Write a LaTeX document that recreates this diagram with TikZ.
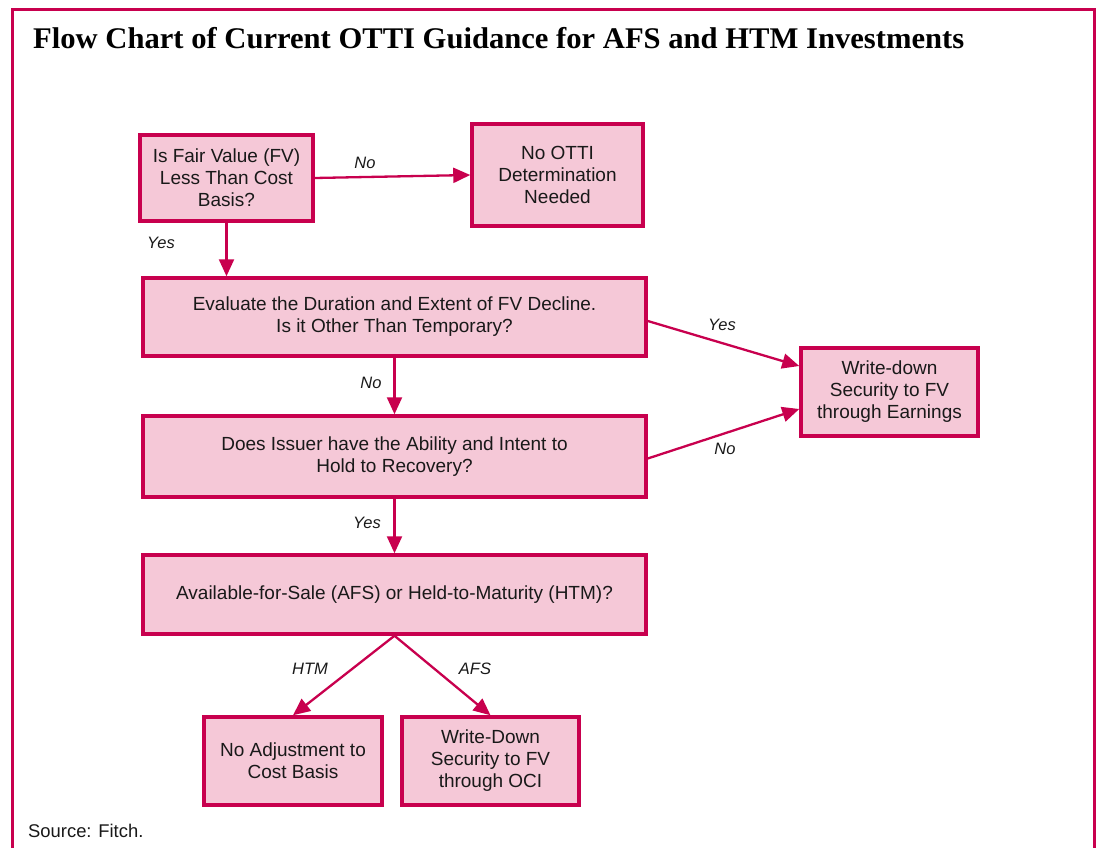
\documentclass[tikz,border=0pt]{standalone}
\usepackage{fontspec}
\setmainfont{Liberation Sans}
\newfontfamily\titlefont{Liberation Serif}
\usetikzlibrary{arrows.meta}
\definecolor{crim}{RGB}{200,0,78}
\definecolor{pinkfill}{RGB}{245,200,215}
\tikzset{
  box/.style={draw=crim, line width=3.5pt, fill=pinkfill, align=center, inner sep=0pt,
    font=\fontsize{19}{22}\selectfont, text=black!90},
  arr/.style={draw=crim, line width=2.3pt, -{Triangle[length=17pt,width=15pt]}},
  lbl/.style={font=\fontsize{16.5}{20}\selectfont\itshape, text=black!90},
}
\begin{document}
\begin{tikzpicture}[x=1pt,y=-1pt]
\useasboundingbox (0,0) rectangle (1096,848);
\fill[white] (0,0) rectangle (1096,848);
\draw[crim, line width=3.5pt] (12.5,880) -- (12.5,9.5) -- (1094.5,9.5) -- (1094.5,880);
\node[anchor=base west, inner sep=0pt] (title) at (33,49)
  {\titlefont\bfseries\scalebox{1.02}[1]{\fontsize{30}{32}\selectfont Flow Chart of Current OTTI Guidance for AFS and HTM Investments}};

\node[box, minimum width=173pt, minimum height=86pt] (A) at (226.5,178) {Is Fair Value (FV)\\Less Than Cost\\Basis?};
\node[box, minimum width=171pt, minimum height=102pt] (B) at (557.5,175) {No OTTI\\Determination\\Needed};
\node[box, minimum width=503pt, minimum height=78pt] (C) at (394.5,317) {Evaluate the Duration and Extent of FV Decline.\\Is it Other Than Temporary?};
\node[box, minimum width=503pt, minimum height=81pt] (D) at (394.5,456.5) {Does Issuer have the Ability and Intent to\\Hold to Recovery?};
\node[box, minimum width=177pt, minimum height=88pt] (E) at (889.5,392) {Write-down\\Security to FV\\through Earnings};
\node[box, minimum width=503pt, minimum height=79pt] (F) at (394.5,594.5) {Available-for-Sale (AFS) or Held-to-Maturity (HTM)?};
\node[box, minimum width=178pt, minimum height=88pt] (G) at (293,761) {No Adjustment to\\Cost Basis};
\node[box, minimum width=177pt, minimum height=88pt] (H) at (490.5,761) {Write-Down\\Security to FV\\through OCI};

\draw[arr] (A.east) -- (B.west);
\draw[arr] (A.south) -- (A.south |- C.north);
\draw[arr] (C.south) -- (D.north);
\draw[arr] ([yshift=-4pt]C.east) -- ([yshift=26pt]E.west);
\draw[arr] ([yshift=-2pt]D.east) -- ([yshift=-17pt]E.west);
\draw[arr] (D.south) -- (F.north);
\draw[arr] (F.south) -- (G.north);
\draw[arr] (F.south) -- (H.north);

\node[lbl] (l1) at (365,163) {No};
\node[lbl] (l2) at (161,243) {Yes};
\node[lbl] (l3) at (371,383) {No};
\node[lbl] (l4) at (722,325) {Yes};
\node[lbl] (l5) at (725,449) {No};
\node[lbl] (l6) at (367,523) {Yes};
\node[lbl] (l7) at (310,669) {HTM};
\node[lbl] (l8) at (475,669) {AFS};

\node[anchor=base west, inner sep=0pt, font=\fontsize{18.4}{20}\selectfont, text=black!90] (src) at (28,837) {Source: Fitch.};
\end{tikzpicture}
\end{document}
